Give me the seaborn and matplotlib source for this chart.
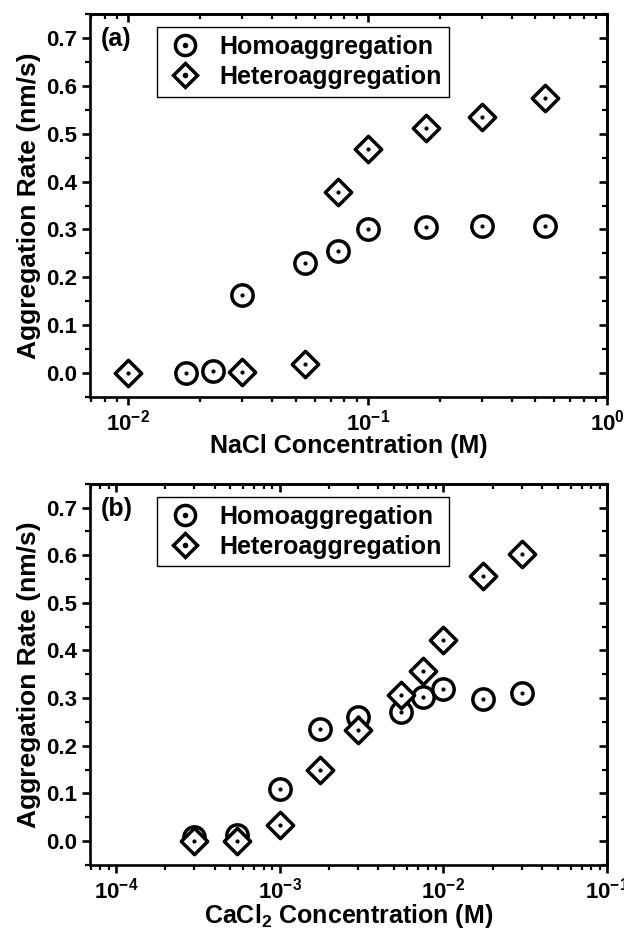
import numpy as np
import pandas as pd
import matplotlib
matplotlib.use("Agg")
import matplotlib.pyplot as plt
import seaborn as sns
from matplotlib.lines import Line2D
from matplotlib.legend_handler import HandlerTuple
from matplotlib.ticker import MultipleLocator, LogLocator, NullFormatter

# panel (a): NaCl
nacl_homo_x = [0.0175, 0.0225, 0.03, 0.055, 0.075, 0.1, 0.175, 0.3, 0.55]
nacl_homo_y = [0.0, 0.004, 0.164, 0.229, 0.255, 0.300, 0.305, 0.307, 0.307]
nacl_hetero_x = [0.01, 0.03, 0.055, 0.075, 0.1, 0.175, 0.3, 0.55]
nacl_hetero_y = [0.0, 0.003, 0.02, 0.379, 0.467, 0.512, 0.535, 0.574]

# panel (b): CaCl2
cacl_x = [3e-4, 5.5e-4, 1e-3, 1.75e-3, 3e-3, 5.5e-3, 7.5e-3, 1e-2, 1.75e-2, 3e-2]
cacl_homo_y = [0.008, 0.012, 0.109, 0.235, 0.261, 0.270, 0.303, 0.320, 0.299, 0.310]
cacl_hetero_y = [0.0, 0.0, 0.033, 0.150, 0.234, 0.307, 0.356, 0.422, 0.556, 0.603]

sns.set_style("ticks")
plt.rcParams["font.family"] = ["Liberation Sans", "DejaVu Sans"]
plt.rcParams["font.weight"] = "bold"
plt.rcParams["axes.labelweight"] = "bold"
plt.rcParams["mathtext.fontset"] = "custom"
plt.rcParams["mathtext.rm"] = "Liberation Sans:bold"
plt.rcParams["mathtext.bf"] = "Liberation Sans:bold"
plt.rcParams["axes.linewidth"] = 1.9
for key in ["text.color", "axes.labelcolor", "axes.edgecolor",
            "xtick.color", "ytick.color"]:
    plt.rcParams[key] = "black"

fig, axes = plt.subplots(2, 1, figsize=(6.24, 9.32), dpi=100)
axes[0].set_position([0.144, 0.574, 0.829, 0.411])
axes[1].set_position([0.144, 0.072, 0.829, 0.409])


def draw(ax, hx, hy, ex, ey):
    sns.scatterplot(x=hx, y=hy, marker="o", s=235, facecolor="white",
                    edgecolor="black", linewidth=2.5, ax=ax, zorder=3)
    sns.scatterplot(x=hx, y=hy, marker="o", s=9, color="black",
                    linewidth=0, ax=ax, zorder=4)
    sns.scatterplot(x=ex, y=ey, marker="D", s=180, facecolor="white",
                    edgecolor="black", linewidth=2.5, ax=ax, zorder=5)
    sns.scatterplot(x=ex, y=ey, marker="o", s=9, color="black",
                    linewidth=0, ax=ax, zorder=6)


def style(ax, xlim, label, xlabel):
    ax.set_xscale("log")
    ax.set_xlim(*xlim)
    ax.set_ylim(-0.05, 0.75)
    ax.set_yticks(np.arange(0, 0.71, 0.1))
    ax.yaxis.set_minor_locator(MultipleLocator(0.05))
    ax.xaxis.set_minor_locator(LogLocator(base=10, subs=np.arange(2, 10)))
    ax.xaxis.set_minor_formatter(NullFormatter())
    ax.tick_params(which="major", direction="out", length=6, width=1.9,
                   labelsize=16, pad=3)
    ax.tick_params(which="minor", direction="out", length=3.5, width=1.6)
    for t in ax.get_xticklabels() + ax.get_yticklabels():
        t.set_fontweight("bold")

    top = ax.secondary_xaxis("top")
    top.tick_params(which="major", direction="in", length=6, width=1.9,
                    labeltop=False)
    top.tick_params(which="minor", direction="in", length=3.5, width=1.6)
    top.xaxis.set_minor_locator(LogLocator(base=10, subs=np.arange(2, 10)))
    top.xaxis.set_minor_formatter(NullFormatter())
    right = ax.secondary_yaxis("right")
    right.set_yticks(np.arange(0, 0.71, 0.1))
    right.yaxis.set_minor_locator(MultipleLocator(0.05))
    right.tick_params(which="major", direction="in", length=6, width=1.9,
                      labelright=False)
    right.tick_params(which="minor", direction="in", length=3.5, width=1.6)

    ax.set_ylabel("Aggregation Rate (nm/s)", fontsize=19, fontweight="bold",
                  labelpad=4)
    ax.set_xlabel(xlabel, fontsize=18, fontweight="bold", labelpad=-1)
    ax.text(0.022, 0.965, label, transform=ax.transAxes, fontsize=18,
            fontweight="bold", va="top", ha="left")

    h_homo = (Line2D([], [], ls="none", marker="o", ms=14.5, mfc="white",
                     mec="black", mew=2.5),
              Line2D([], [], ls="none", marker="o", ms=3, color="black"))
    h_het = (Line2D([], [], ls="none", marker="D", ms=12, mfc="white",
                    mec="black", mew=2.5),
             Line2D([], [], ls="none", marker="o", ms=3, color="black"))
    leg = ax.legend([h_homo, h_het], ["Homoaggregation", "Heteroaggregation"],
                    handler_map={tuple: HandlerTuple(ndivide=1)},
                    loc="upper left", bbox_to_anchor=(0.13, 0.965),
                    fancybox=False, framealpha=1, edgecolor="black",
                    prop={"size": 18, "weight": "bold"},
                    handlelength=1.6, handletextpad=0.6, borderpad=0.3,
                    labelspacing=0.25, borderaxespad=0)
    leg.get_frame().set_linewidth(1.0)


draw(axes[0], nacl_homo_x, nacl_homo_y, nacl_hetero_x, nacl_hetero_y)
style(axes[0], (10 ** -2.16, 1.0), "(a)", "NaCl Concentration (M)")

draw(axes[1], cacl_x, cacl_homo_y, cacl_x, cacl_hetero_y)
style(axes[1], (10 ** -4.16, 0.1), "(b)",
      r"CaCl$_\mathdefault{2}$ Concentration (M)")

fig.savefig("out.png", dpi=100)
